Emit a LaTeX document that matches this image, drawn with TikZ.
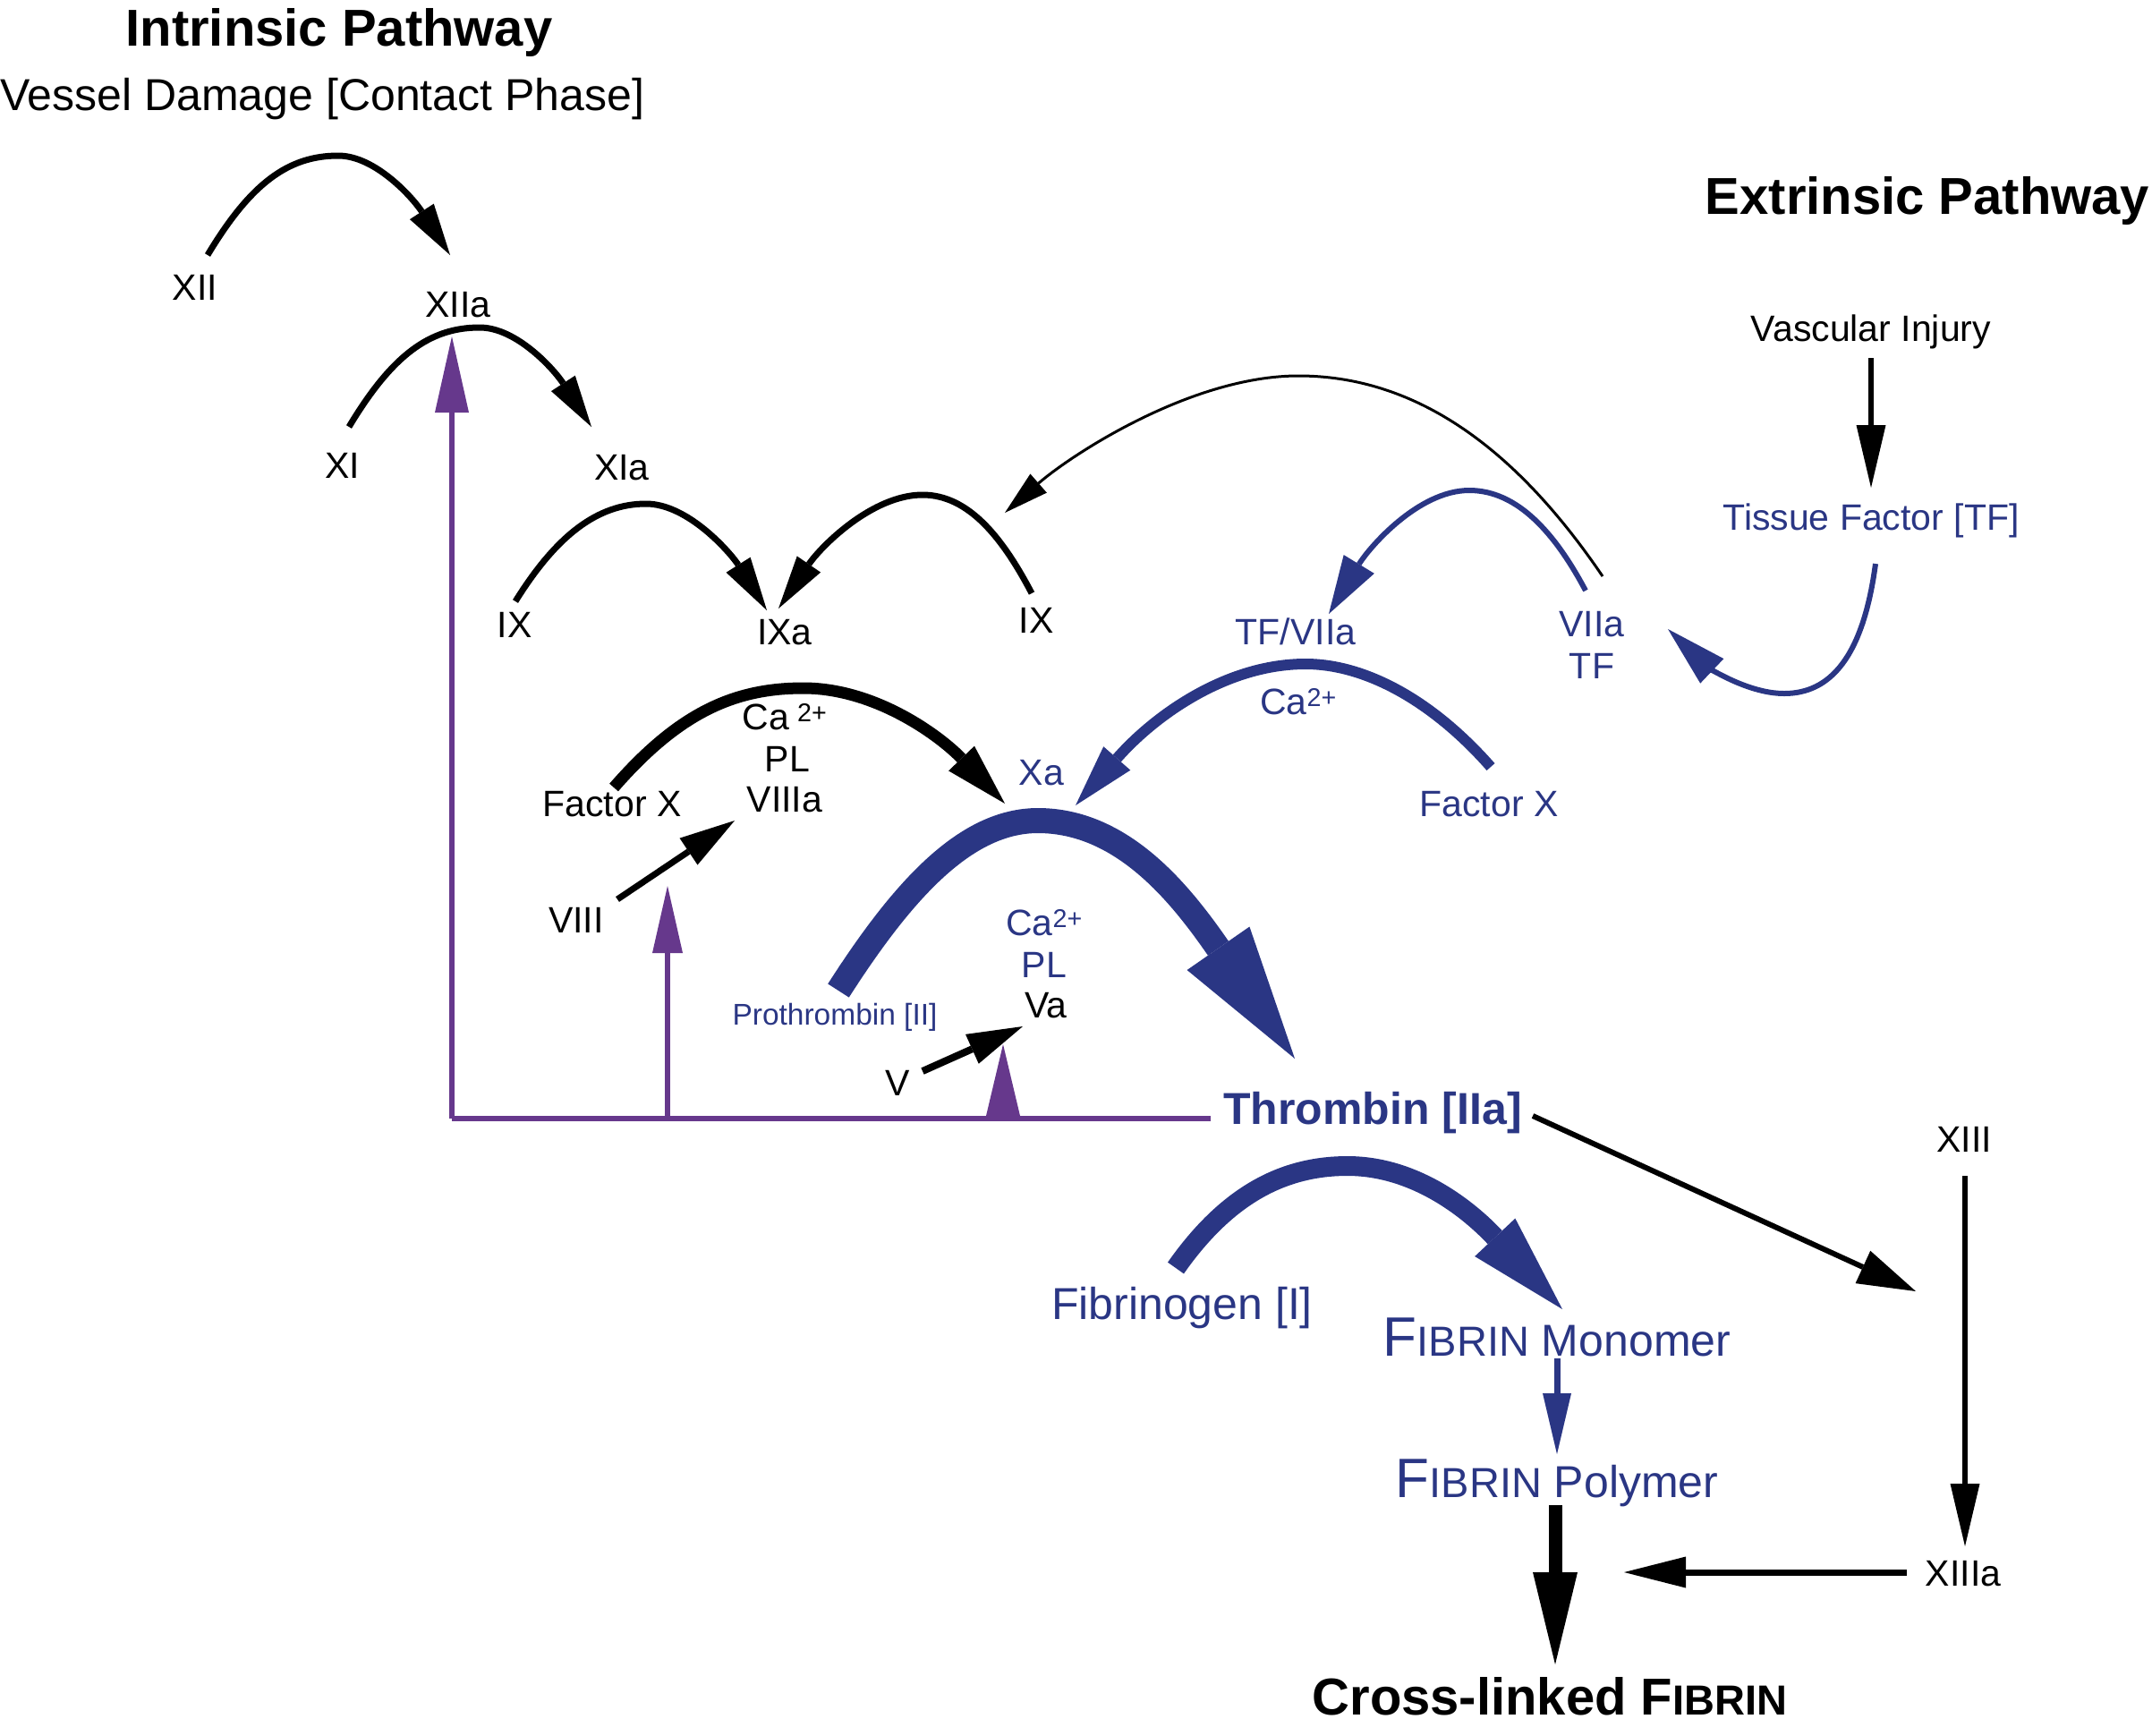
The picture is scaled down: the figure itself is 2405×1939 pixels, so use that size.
\documentclass[tikz,border=0pt]{standalone}
\usepackage{fontspec}
\setmainfont{Liberation Sans}
\usetikzlibrary{arrows.meta}
\definecolor{tblue}{RGB}{42,54,132}
\definecolor{tpurple}{RGB}{102,56,140}
\begin{document}
\begin{tikzpicture}[x=1pt,y=-1pt,
  lbl/.style={inner sep=0pt, font=\fontsize{41}{47}\selectfont},
  blbl/.style={lbl, text=tblue},
  ttl/.style={inner sep=0pt, font=\fontsize{58}{64}\selectfont\bfseries},
  bigf/.style={inner sep=0pt, font=\fontsize{50}{56}\selectfont},
  kline/.style={draw=black},
  bline/.style={draw=tblue},
  pline/.style={draw=tpurple, line width=6pt},
]
\useasboundingbox (0,0) rectangle (2405,1939);

% ---------------- labels ----------------
\node[ttl] (intr) at (379,36) {Intrinsic Pathway};
\node[bigf, anchor=west] (vd) at (0,111) {Vessel Damage [Contact Phase]};
\node[ttl] (extr) at (2154,224) {Extrinsic Pathway};
\node[lbl] (xii) at (218,321) {XII};
\node[lbl] (xiia) at (512,341) {XIIa};
\node[lbl] (xi) at (383,520) {XI};
\node[lbl] (xia) at (695,523) {XIa};
\node[lbl] (ixl) at (575,698) {IX};
\node[lbl] (ixa) at (877,707) {IXa};
\node[lbl] (ixr) at (1158,693) {IX};
\node[lbl] (vi) at (2091,371) {Vascular Injury};
\node[blbl] (tf) at (2091,582) {Tissue Factor [TF]};
\node[blbl] (tfvii) at (1448,706) {TF/VIIa};
\node[blbl] (viia) at (1779,698) {VIIa};
\node[blbl] (tf2) at (1779,744) {TF};
\node[blbl] (ca1) at (1451,784) {Ca\textsuperscript{2+}};
\node[blbl] (fxb) at (1664,899) {Factor X};
\node[lbl] (fxk) at (684,899) {Factor X};
\node[lbl] (ca2) at (877,801) {Ca\hspace{9pt}\textsuperscript{2+}};
\node[lbl] (pl1) at (880,848) {PL};
\node[lbl] (viiia) at (877,894) {VIIIa};
\node[blbl] (xa) at (1164,864) {Xa};
\node[lbl] (viii) at (644,1028) {VIII};
\node[blbl] (ca3) at (1167,1031) {Ca\textsuperscript{2+}};
\node[blbl] (pl2) at (1167,1078) {PL};
\node[lbl] (va) at (1169,1124) {Va};
\node[inner sep=0pt, text=tblue, font=\fontsize{33.5}{38}\selectfont] (proth) at (933,1137) {Prothrombin [II]};
\node[lbl] (v) at (1003,1210) {V};
\node[inner sep=0pt, text=tblue, font=\fontsize{50}{56}\selectfont\bfseries] (thr) at (1534,1244) {Thrombin [IIa]};
\node[lbl] (xiii) at (2195,1273) {XIII};
\node[bigf, text=tblue] (fibg) at (1321,1462) {Fibrinogen [I]};
\node[bigf, text=tblue] (fmono) at (1740,1494) {{\fontsize{62}{62}\selectfont F}{\fontsize{47}{50}\selectfont IBRIN} Monomer};
\node[bigf, text=tblue] (fpoly) at (1740,1657) {{\fontsize{62}{62}\selectfont F}{\fontsize{47}{50}\selectfont IBRIN} Polymer};
\node[lbl] (xiiia) at (2194,1759) {XIIIa};
\node[ttl] (xf) at (1732,1896) {Cross-linked F{\fontsize{47}{50}\selectfont IBRIN}};

% ---------------- connector end points ----------------
\coordinate (a1s) at (232,285);   \coordinate (a1e) at (503,285);
\coordinate (a2s) at (390,477);   \coordinate (a2e) at (661,477);
\coordinate (a3s) at (576,672);   \coordinate (a3e) at (857,682);
\coordinate (a4s) at (1153,663);  \coordinate (a4e) at (870,680);
\coordinate (a5s) at (1791,644);  \coordinate (a5e) at (1123,573);
\coordinate (b1s) at (1772,660);  \coordinate (b1e) at (1485,686);
\coordinate (b2s) at (2096,630);  \coordinate (b2e) at (1864,703);
\coordinate (v1s) at (2091,400);  \coordinate (v1e) at (2091,545);
\coordinate (b3s) at (1666,857);  \coordinate (b3e) at (1202,900);
\coordinate (b4s) at (686,880);   \coordinate (b4e) at (1123,898);
\coordinate (v8s) at (690,1005);  \coordinate (v8e) at (821,917);
\coordinate (b5s) at (937,1107);  \coordinate (b5e) at (1447,1183);
\coordinate (v5s) at (1031,1197); \coordinate (v5e) at (1143,1147);
\coordinate (t1s) at (1713,1247); \coordinate (t1e) at (2141,1443);
\coordinate (x13s) at (2196,1314); \coordinate (x13e) at (2196,1728);
\coordinate (x13as) at (2131,1757); \coordinate (x13ae) at (1815,1757);
\coordinate (fps) at (1738,1682); \coordinate (fpe) at (1738,1860);
\coordinate (fms) at (1740,1518); \coordinate (fme) at (1740,1625);
\coordinate (b6s) at (1314,1417); \coordinate (b6e) at (1746,1463);
\coordinate (pc) at (505,1250);   \coordinate (pe) at (1353,1250);
\coordinate (p1t) at (505,376);
\coordinate (p2b) at (746,1250);  \coordinate (p2t) at (746,990);
\coordinate (p3b) at (1121,1250); \coordinate (p3t) at (1121,1167);

% ---------------- purple feedback ----------------
\draw[pline] (pe) -- (pc);
\draw[pline, -{Triangle[length=85pt,width=38pt,line width=0pt]}] (pc) -- (p1t);
\draw[pline, -{Triangle[length=75pt,width=34pt,line width=0pt]}] (p2b) -- (p2t);
\draw[pline, -{Triangle[length=80pt,width=38pt,line width=0pt]}] (p3b) -- (p3t);

% ---------------- intrinsic arcs ----------------
\draw[kline, line width=7pt, -{Triangle[length=58pt,width=32pt,line width=0pt]}]
  (a1s) .. controls (280,205) and (322,174) .. (378,174) .. controls (420,174) and (462,222) .. (a1e);
\draw[kline, line width=7pt, -{Triangle[length=58pt,width=32pt,line width=0pt]}]
  (a2s) .. controls (438,397) and (480,366) .. (536,366) .. controls (578,366) and (620,414) .. (a2e);
\draw[kline, line width=7pt, -{Triangle[length=60pt,width=32pt,line width=0pt]}]
  (a3s) .. controls (622,598) and (668,563) .. (722,563) .. controls (770,563) and (818,620) .. (a3e);
\draw[kline, line width=7pt, -{Triangle[length=60pt,width=32pt,line width=0pt]}]
  (a4s) .. controls (1120,600) and (1082,553) .. (1031,553) .. controls (975,553) and (918,610) .. (a4e);
\draw[kline, line width=3pt, -{Triangle[length=50pt,width=28pt,line width=0pt]}]
  (a5s) .. controls (1700,510) and (1590,420) .. (1451,420) .. controls (1330,420) and (1195,510) .. (a5e);

% ---------------- extrinsic ----------------
\draw[kline, line width=6pt, -{Triangle[length=70pt,width=33pt,line width=0pt]}] (v1s) -- (v1e);
\draw[bline, line width=6pt, -{Triangle[length=65pt,width=40pt,line width=0pt]}]
  (b1s) .. controls (1738,596) and (1696,548) .. (1642,548) .. controls (1585,548) and (1530,612) .. (b1e);
\draw[bline, line width=6pt, -{Triangle[length=68pt,width=38pt,line width=0pt]}]
  (b2s) .. controls (2082,735) and (2045,775) .. (1994,775) .. controls (1950,775) and (1905,742) .. (b2e);
\draw[bline, line width=12pt, -{Triangle[length=70pt,width=40pt,line width=0pt]}]
  (b3s) .. controls (1600,782) and (1525,742) .. (1459,742) .. controls (1370,742) and (1290,800) .. (b3e);

% ---------------- common pathway ----------------
\draw[kline, line width=13pt, -{Triangle[length=70pt,width=40pt,line width=0pt]}]
  (b4s) .. controls (760,795) and (822,769) .. (898,769) .. controls (978,769) and (1050,822) .. (b4e);
\draw[kline, line width=7pt, -{Triangle[length=62pt,width=36pt,line width=0pt]}] (v8s) -- (v8e);
\draw[bline, line width=28pt, -{Triangle[length=150pt,width=85pt,line width=0pt]}]
  (b5s) .. controls (1010,993) and (1080,917) .. (1160,917) .. controls (1255,917) and (1320,1000) .. (b5e);
\draw[kline, line width=8pt, -{Triangle[length=62pt,width=36pt,line width=0pt]}] (v5s) -- (v5e);
\draw[kline, line width=6pt, -{Triangle[length=65pt,width=40pt,line width=0pt]}] (t1s) -- (t1e);
\draw[kline, line width=6pt, -{Triangle[length=70pt,width=33pt,line width=0pt]}] (x13s) -- (x13e);
\draw[kline, line width=7pt, -{Triangle[length=69pt,width=35pt,line width=0pt]}] (x13as) -- (x13ae);
\draw[kline, line width=15pt, -{Triangle[length=103pt,width=50pt,line width=0pt]}] (fps) -- (fpe);
\draw[bline, line width=7pt, -{Triangle[length=68pt,width=32pt,line width=0pt]}] (fms) -- (fme);
\draw[bline, line width=22pt, -{Triangle[length=110pt,width=62pt,line width=0pt]}]
  (b6s) .. controls (1375,1330) and (1440,1303) .. (1506,1303) .. controls (1580,1303) and (1640,1350) .. (b6e);
\end{tikzpicture}
\end{document}
